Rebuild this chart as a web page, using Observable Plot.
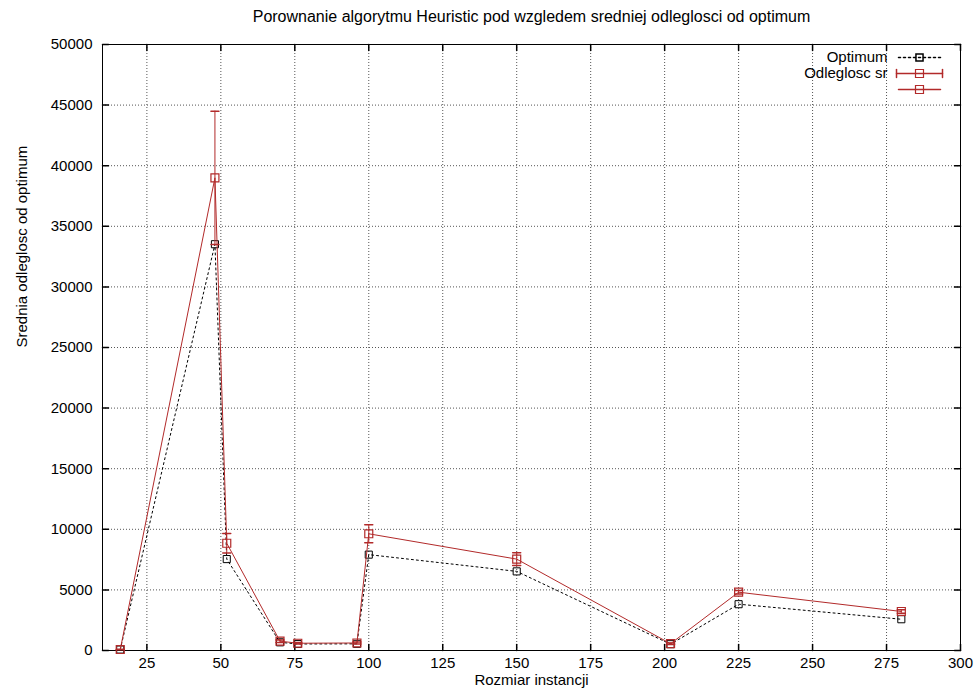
<!DOCTYPE html>
<html>
<head>
<meta charset="utf-8">
<script src="https://cdn.jsdelivr.net/npm/d3@7"></script>
<script src="https://cdn.jsdelivr.net/npm/@observablehq/plot@0.6"></script>
<style>
  html, body { margin: 0; padding: 0; background: white; }
</style>
</head>
<body>
<div id="chart"></div>
<script>
// ---- data ----
const title = "Porownanie algorytmu Heuristic pod wzgledem sredniej odleglosci od optimum";
const xLabel = "Rozmiar instancji";
const yLabel = "Srednia odleglosc od optimum";
const legendLabels = ["Optimum", "Odleglosc sr", ""];
const sizes    = [16, 48, 52, 70, 76, 96, 100, 150, 202, 225, 280];
const optimum  = [80, 33522, 7542, 675, 538, 550, 7910, 6528, 520, 3820, 2579];
const avgDist  = [80, 39000, 8850, 770, 600, 620, 9630, 7540, 560, 4810, 3220];
const stdDev   = [20, 5500, 800, 100, 60, 80, 740, 520, 60, 150, 150];
const xTicks = [25, 50, 75, 100, 125, 150, 175, 200, 225, 250, 275, 300];
const yTicks = [0, 5000, 10000, 15000, 20000, 25000, 30000, 35000, 40000, 45000, 50000];

const optData = sizes.map((n, i) => ({n, v: optimum[i]}));
const avgData = sizes.map((n, i) => ({n, v: avgDist[i], lo: avgDist[i] - stdDev[i], hi: avgDist[i] + stdDev[i]}));

const RED = "#b22a2a";
const FONT = "'Liberation Sans', Arial, Helvetica, sans-serif";
const FS = 15;

// custom vector shapes
const tickUp    = {draw(c, l) { c.moveTo(0, 0); c.lineTo(0, -l); }};
const tickDown  = {draw(c, l) { c.moveTo(0, 0); c.lineTo(0, l); }};
const tickRight = {draw(c, l) { c.moveTo(0, 0); c.lineTo(l, 0); }};
const tickLeft  = {draw(c, l) { c.moveTo(0, 0); c.lineTo(-l, 0); }};
const hCenter   = {draw(c, l) { c.moveTo(-l / 2, 0); c.lineTo(l / 2, 0); }};
const vCenter   = {draw(c, l) { c.moveTo(0, -l / 2); c.lineTo(0, l / 2); }};

const legX = -41;           // legend sample centre from right edge of frame
const legLen = 46;

const chart = Plot.plot({
  width: 979,
  height: 692,
  marginLeft: 102,
  marginRight: 19,
  marginTop: 44,
  marginBottom: 42,
  style: {fontFamily: FONT, fontSize: FS + "px", background: "white", color: "black"},
  x: {domain: [10, 300]},
  y: {domain: [0, 50000]},
  marks: [
    // grid
    Plot.ruleX(xTicks, {stroke: "#555", strokeDasharray: "1,2"}),
    Plot.ruleY(yTicks, {stroke: "#555", strokeDasharray: "1,2"}),
    Plot.frame({stroke: "black"}),
    // tick labels
    Plot.axisX(xTicks, {tickSize: 0, tickPadding: 7, label: null, fontSize: FS}),
    Plot.axisY(yTicks, {tickSize: 0, tickPadding: 10, label: null, fontSize: FS, tickFormat: d => String(d)}),
    // inward ticks on all sides
    Plot.vector(xTicks, {x: d => d, frameAnchor: "bottom", length: 6, shape: tickUp, anchor: "start", stroke: "black", fill: "none"}),
    Plot.vector(xTicks, {x: d => d, frameAnchor: "top", length: 6, shape: tickDown, anchor: "start", stroke: "black", fill: "none"}),
    Plot.vector(yTicks, {y: d => d, frameAnchor: "left", length: 6, shape: tickRight, anchor: "start", stroke: "black", fill: "none"}),
    Plot.vector(yTicks, {y: d => d, frameAnchor: "right", length: 6, shape: tickLeft, anchor: "start", stroke: "black", fill: "none"}),
    // axis titles and chart title
    Plot.text([xLabel], {text: d => d, frameAnchor: "bottom", dy: 30, lineAnchor: "middle", fontSize: FS}),
    Plot.text([yLabel], {text: d => d, frameAnchor: "left", dx: -80, rotate: -90, lineAnchor: "middle", fontSize: FS}),
    Plot.text([title], {text: d => d, frameAnchor: "top", dy: -28, lineAnchor: "middle", fontSize: 16}),
    // optimum series
    Plot.line(optData, {x: "n", y: "v", stroke: "black", strokeWidth: 1, strokeDasharray: "2,3"}),
    Plot.dot(optData, {x: "n", y: "v", symbol: "square", r: 4, stroke: "black", strokeWidth: 1, fill: "none"}),
    // average distance with error bars
    Plot.ruleX(avgData, {x: "n", y1: "lo", y2: "hi", stroke: RED, strokeWidth: 1}),
    Plot.vector(avgData, {x: "n", y: "lo", length: 8, shape: hCenter, anchor: "start", stroke: RED, fill: "none"}),
    Plot.vector(avgData, {x: "n", y: "hi", length: 8, shape: hCenter, anchor: "start", stroke: RED, fill: "none"}),
    Plot.line(avgData, {x: "n", y: "v", stroke: RED, strokeWidth: 1}),
    Plot.dot(avgData, {x: "n", y: "v", symbol: "square", r: 4.5, stroke: RED, strokeWidth: 1.2, fill: "none"}),
    // legend
    Plot.text([legendLabels[0]], {text: d => d, frameAnchor: "top-right", dx: -73, dy: 13, textAnchor: "end", lineAnchor: "middle", fontSize: FS}),
    Plot.text([legendLabels[1]], {text: d => d, frameAnchor: "top-right", dx: -73, dy: 29, textAnchor: "end", lineAnchor: "middle", fontSize: FS}),
    Plot.vector([0], {frameAnchor: "top-right", dx: legX, dy: 13, length: legLen - 4, shape: hCenter, anchor: "start", stroke: "black", strokeDasharray: "2,3", fill: "none"}),
    Plot.dot([0], {frameAnchor: "top-right", dx: legX, dy: 13, symbol: "square", r: 4, stroke: "black", fill: "none"}),
    Plot.vector([0], {frameAnchor: "top-right", dx: legX, dy: 29, length: legLen, shape: hCenter, anchor: "start", stroke: RED, fill: "none"}),
    Plot.vector([0], {frameAnchor: "top-right", dx: legX - legLen / 2, dy: 29, length: 8, shape: vCenter, anchor: "start", stroke: RED, fill: "none"}),
    Plot.vector([0], {frameAnchor: "top-right", dx: legX + legLen / 2, dy: 29, length: 8, shape: vCenter, anchor: "start", stroke: RED, fill: "none"}),
    Plot.dot([0], {frameAnchor: "top-right", dx: legX, dy: 29, symbol: "square", r: 4.5, stroke: RED, strokeWidth: 1.2, fill: "none"}),
    Plot.vector([0], {frameAnchor: "top-right", dx: legX, dy: 45, length: legLen - 4, shape: hCenter, anchor: "start", stroke: RED, fill: "none"}),
    Plot.dot([0], {frameAnchor: "top-right", dx: legX, dy: 45, symbol: "square", r: 4.5, stroke: RED, strokeWidth: 1.2, fill: "none"})
  ]
});
document.getElementById("chart").appendChild(chart);
</script>
</body>
</html>
